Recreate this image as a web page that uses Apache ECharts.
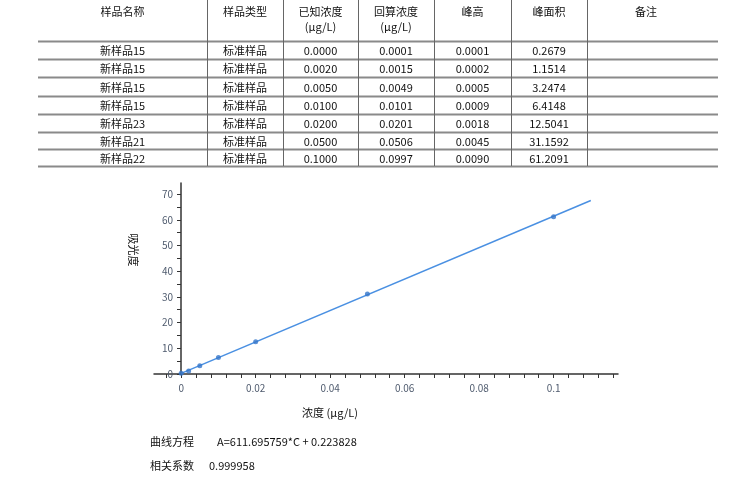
<!DOCTYPE html>
<html>
<head>
<meta charset="utf-8">
<script src="https://cdn.jsdelivr.net/npm/echarts@6/dist/echarts.min.js"></script>
<style>
html,body{margin:0;padding:0;background:#fff;}
#chart{width:756px;height:480px;}
</style>
</head>
<body>
<div id="chart"></div>
<script>
// ---- data ----
var headers = [['样品名称'], ['样品类型'], ['已知浓度', '(μg/L)'], ['回算浓度', '(μg/L)'], ['峰高'], ['峰面积'], ['备注']];
var sampleNames = ['新样品15', '新样品15', '新样品15', '新样品15', '新样品23', '新样品21', '新样品22'];
var sampleTypes = ['标准样品', '标准样品', '标准样品', '标准样品', '标准样品', '标准样品', '标准样品'];
var knownConc = ['0.0000', '0.0020', '0.0050', '0.0100', '0.0200', '0.0500', '0.1000'];
var backCalcConc = ['0.0001', '0.0015', '0.0049', '0.0101', '0.0201', '0.0506', '0.0997'];
var peakHeight = ['0.0001', '0.0002', '0.0005', '0.0009', '0.0018', '0.0045', '0.0090'];
var peakArea = ['0.2679', '1.1514', '3.2474', '6.4148', '12.5041', '31.1592', '61.2091'];
var remarks = ['', '', '', '', '', '', ''];

var concValues = [0, 0.002, 0.005, 0.01, 0.02, 0.05, 0.1];
var areaValues = [0.2679, 1.1514, 3.2474, 6.4148, 12.5041, 31.1592, 61.2091];
var fitLineX = [0, 0.11];
var fitLineY = [0.224, 67.51];

var xTickLabels = [0, 0.02, 0.04, 0.06, 0.08, 0.1];
var xTickMarks = [-0.004, 0, 0.004, 0.008, 0.012, 0.016, 0.02, 0.024, 0.028, 0.032, 0.036, 0.04, 0.044, 0.048, 0.052, 0.056, 0.06, 0.064, 0.068, 0.072, 0.076, 0.08, 0.084, 0.088, 0.092, 0.096, 0.1, 0.104, 0.108, 0.112, 0.116];
var yTickLabels = [0, 10, 20, 30, 40, 50, 60, 70];
var yTickMarks = [0, 5, 10, 15, 20, 25, 30, 35, 40, 45, 50, 55, 60, 65, 70];

var xAxisName = '浓度 (μg/L)';
var yAxisName = '吸光度';
var equationLabel = '曲线方程';
var equationText = 'A=611.695759*C + 0.223828';
var corrLabel = '相关系数';
var corrText = '0.999958';

// ---- layout ----
var FONT = '"Noto Sans CJK SC", "Noto Sans", sans-serif';
var colEdges = [38, 207, 283, 358, 434, 511, 587, 718];
var rowLines = [41, 59, 77, 96, 114, 132, 149, 166];
var columns = [sampleNames, sampleTypes, knownConc, backCalcConc, peakHeight, peakArea, remarks];

var graphics = [];
function txt(t, x, y, align, size, color) {
  graphics.push({
    type: 'text', silent: true,
    style: { text: t, x: x, y: y, textAlign: align || 'center', textVerticalAlign: 'middle',
      font: (size || 11) + 'px ' + FONT, fill: color || '#111' }
  });
}
function line(x1, y1, x2, y2, color, w) {
  graphics.push({ type: 'line', silent: true, shape: { x1: x1, y1: y1, x2: x2, y2: y2 },
    style: { stroke: color, lineWidth: w } });
}
// horizontal lines
for (var r = 0; r < rowLines.length; r++) {
  line(colEdges[0], rowLines[r] + 0.5, colEdges[colEdges.length - 1], rowLines[r] + 0.5, '#8a8a8a', 2);
}
// vertical lines (internal)
for (var c = 1; c < colEdges.length - 1; c++) {
  line(colEdges[c] + 0.5, 0, colEdges[c] + 0.5, rowLines[rowLines.length - 1], '#666', 1);
}
// headers
for (var c = 0; c < headers.length; c++) {
  var cx = (colEdges[c] + colEdges[c + 1]) / 2;
  if (c === 6) cx = 646;
  txt(headers[c][0], cx, 12);
  if (headers[c][1]) txt(headers[c][1], cx, 27);
}
// body
for (var c = 0; c < columns.length; c++) {
  var cx = (colEdges[c] + colEdges[c + 1]) / 2;
  for (var r = 0; r < columns[c].length; r++) {
    var cy = (rowLines[r] + rowLines[r + 1]) / 2 + 1;
    if (columns[c][r]) txt(columns[c][r], cx, cy);
  }
}
// axis names
graphics.push({
  type: 'text', silent: true, x: 133, y: 250, rotation: -Math.PI / 2,
  style: { text: yAxisName, x: 0, y: 0, textAlign: 'center', textVerticalAlign: 'middle', font: '11px ' + FONT, fill: '#111' }
});
txt(xAxisName, 330, 413, 'center', 11);
// equation text
txt(equationLabel, 150, 442, 'left', 11);
txt(equationText, 217, 442, 'left', 11);
txt(corrLabel, 150, 466, 'left', 11);
txt(corrText, 209, 466, 'left', 11);

var points = concValues.map(function (v, i) { return [v, areaValues[i]]; });
var fitData = fitLineX.map(function (v, i) { return [v, fitLineY[i]]; });

var chart = echarts.init(document.getElementById('chart'), null, { renderer: 'canvas' });
var labelColor = '#4f5b6e';
chart.setOption({
  animation: false,
  backgroundColor: '#fff',
  grid: { left: 154, right: 138, top: 183, bottom: 106, containLabel: false },
  xAxis: {
    type: 'value', min: -0.0073, max: 0.1173,
    axisLine: { show: true, onZero: false, lineStyle: { color: '#333', width: 1.5 } },
    axisTick: { show: true, customValues: xTickMarks, length: 4, lineStyle: { color: '#333' } },
    axisLabel: { customValues: xTickLabels, color: labelColor, fontSize: 10, fontFamily: FONT, margin: 9 },
    splitLine: { show: false }
  },
  yAxis: {
    type: 'value', min: 0, max: 74.3, position: 'left', offset: -27,
    axisLine: { show: true, onZero: false, lineStyle: { color: '#333', width: 1.5 } },
    axisTick: { show: true, customValues: yTickMarks, length: 4, lineStyle: { color: '#333' } },
    axisLabel: { customValues: yTickLabels, color: labelColor, fontSize: 10, fontFamily: FONT, margin: 8 },
    splitLine: { show: false }
  },
  series: [
    { type: 'line', data: fitData, showSymbol: false, symbol: 'none',
      lineStyle: { color: '#4a90e2', width: 1.5 }, z: 2, silent: true },
    { type: 'scatter', data: points, symbol: 'circle', symbolSize: 5,
      itemStyle: { color: '#3476c9' }, z: 3, silent: true }
  ],
  graphic: graphics
});
</script>
</body>
</html>
